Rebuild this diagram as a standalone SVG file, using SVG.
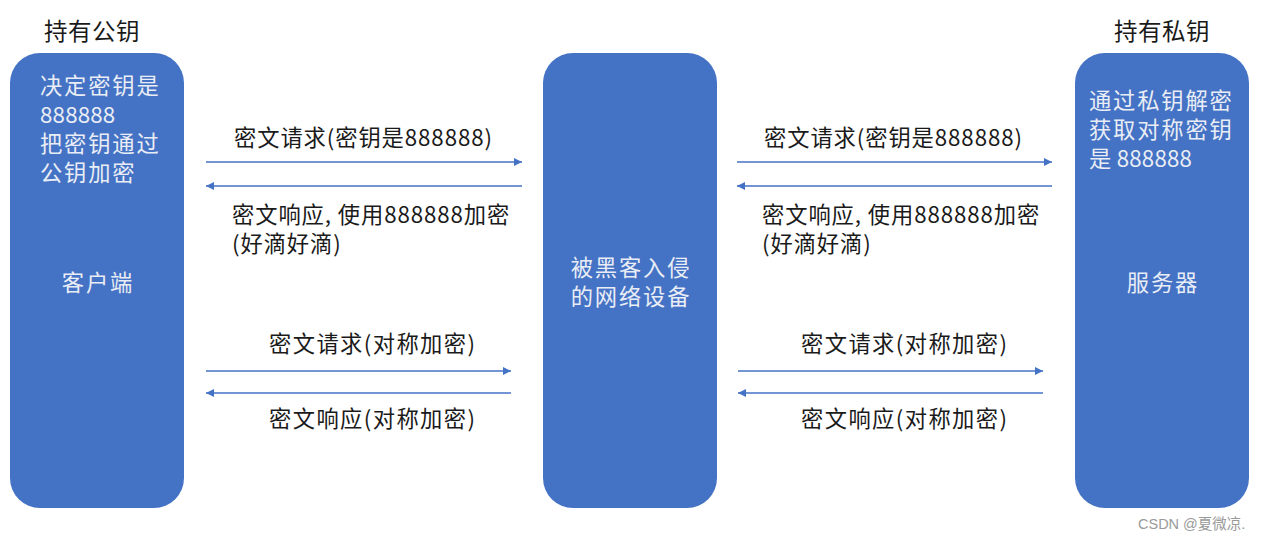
<svg xmlns="http://www.w3.org/2000/svg" width="1265" height="541" viewBox="0 0 1265 541">
<style>
.box{fill:#4472C4;}
.t{font-family:"Noto Sans CJK SC","Liberation Sans",sans-serif;font-size:22.3px;letter-spacing:0.9px;fill:#1a1a1a;}
.b{letter-spacing:1.4px;}
.h{font-family:"Noto Sans CJK SC","Liberation Sans",sans-serif;font-size:23.5px;letter-spacing:0.5px;fill:#1a1a1a;}
.w{font-family:"Noto Sans CJK SC","Liberation Sans",sans-serif;font-size:22.3px;letter-spacing:1.8px;fill:#e9edf5;}
.d{letter-spacing:0.2px;}
.c{text-anchor:middle;}
.ln{stroke:#4472C4;stroke-width:1.3;fill:none;marker-end:url(#ah);}
.wm{font-family:"Liberation Sans","Noto Sans CJK SC",sans-serif;font-size:14.5px;fill:#9a9a9a;}
</style>
<defs>
<marker id="ah" viewBox="0 0 10 10" refX="10" refY="5" markerWidth="8" markerHeight="8" markerUnits="userSpaceOnUse" orient="auto">
<path d="M0,0 L10,5 L0,10 z" fill="#4472C4"/>
</marker>
</defs>
<rect width="1265" height="541" fill="#ffffff"/>
<g id="client">
<rect class="box" x="10" y="53" width="174" height="455" rx="30"/>
<text class="h c" x="92" y="40">持有公钥</text>
<text class="w" x="40" y="94">决定密钥是</text>
<text class="w d" x="40" y="123">888888</text>
<text class="w" x="40" y="152">把密钥通过</text>
<text class="w" x="40" y="181">公钥加密</text>
<text class="w c" x="98" y="291">客户端</text>
</g>
<g id="network">
<rect class="box" x="543" y="53" width="174" height="455" rx="30"/>
<text class="w c" x="631" y="276">被黑客入侵</text>
<text class="w c" x="631" y="305">的网络设备</text>
</g>
<g id="server">
<rect class="box" x="1075" y="53" width="174" height="455" rx="30"/>
<text class="h c" x="1162" y="40">持有私钥</text>
<text class="w" x="1089" y="109">通过私钥解密</text>
<text class="w" x="1089" y="138">获取对称密钥</text>
<text class="w d" x="1089" y="167">是 888888</text>
<text class="w c" x="1163" y="291">服务器</text>
</g>
<g id="connectors">
<line class="ln" x1="206" y1="162" x2="522" y2="162"/>
<line class="ln" x1="522" y1="186" x2="206" y2="186"/>
<line class="ln" x1="206" y1="371" x2="511" y2="371"/>
<line class="ln" x1="511" y1="393" x2="206" y2="393"/>
<line class="ln" x1="737" y1="162" x2="1052" y2="162"/>
<line class="ln" x1="1052" y1="186" x2="737" y2="186"/>
<line class="ln" x1="738" y1="371" x2="1043" y2="371"/>
<line class="ln" x1="1043" y1="393" x2="738" y2="393"/>
</g>
<g id="labels">
<text class="t" x="234" y="146">密文请求(密钥是888888)</text>
<text class="t" x="232" y="223">密文响应, 使用888888加密</text>
<text class="t" x="232" y="252">(好滴好滴)</text>
<text class="t b" x="269" y="352">密文请求(对称加密)</text>
<text class="t b" x="269" y="427">密文响应(对称加密)</text>
<text class="t" x="764" y="146">密文请求(密钥是888888)</text>
<text class="t" x="762" y="223">密文响应, 使用888888加密</text>
<text class="t" x="762" y="252">(好滴好滴)</text>
<text class="t b" x="801" y="352">密文请求(对称加密)</text>
<text class="t b" x="801" y="427">密文响应(对称加密)</text>
</g>
<text class="wm" x="1138" y="529">CSDN @夏微凉.</text>
</svg>
